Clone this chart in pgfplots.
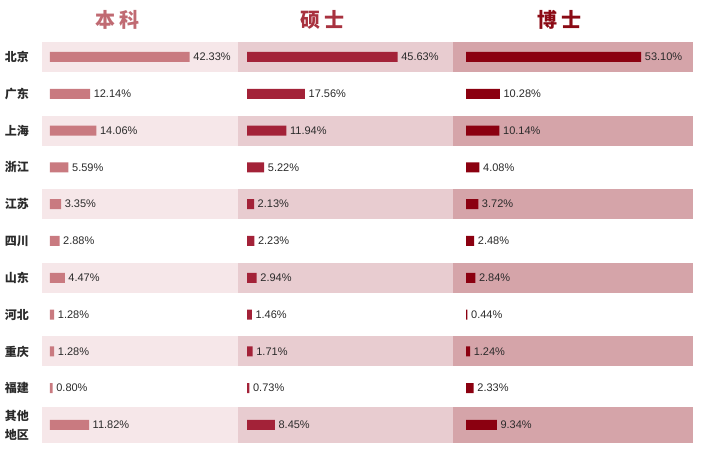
\documentclass[border=0pt]{standalone}
\usepackage{pgfplots}
\usepackage{pgfplotstable}
\pgfplotsset{compat=1.18}
\usepackage{fontspec}
\setmainfont{Liberation Sans}
\newfontfamily\cjk{Noto Sans CJK SC}
\definecolor{bandA}{HTML}{F6E7E9}
\definecolor{bandB}{HTML}{E8CCD0}
\definecolor{bandC}{HTML}{D5A4A9}
\definecolor{barA}{HTML}{C97A80}
\definecolor{barB}{HTML}{A32238}
\definecolor{barC}{HTML}{8B0010}
\definecolor{titA}{HTML}{C06A72}
\definecolor{titB}{HTML}{A8323F}
\definecolor{titC}{HTML}{8B0A14}
\definecolor{txt}{HTML}{2A2A2A}

\pgfplotstableread{
row bk ss bs
0 42.33 45.63 53.10
1 12.14 17.56 10.28
2 14.06 11.94 10.14
3 5.59 5.22 4.08
4 3.35 2.13 3.72
5 2.88 2.23 2.48
6 4.47 2.94 2.84
7 1.28 1.46 0.44
8 1.28 1.71 1.24
9 0.80 0.73 2.33
10 11.82 8.45 9.34
}\datatable

\pgfplotsset{
  /pgf/number format/assume math mode=true,
  colaxis/.style={
    scale only axis,
    height=404.8pt,
    y dir=reverse,
    ymin=-0.5, ymax=10.5,
    axis line style={draw=none},
    major tick length=0pt,
    xtick=\empty,
    ytick=\empty,
    clip=false,
    anchor=south west,
  },
  valbar/.style={
    xbar, bar width=10pt, bar shift=0pt, draw=none, fill=#1,
    point meta=x,
    nodes near coords={\pgfmathprintnumber[fixed,fixed zerofill,precision=2]{\pgfplotspointmeta}\%},
    every node near coord/.append style={font=\fontsize{11}{13}\selectfont, text=txt, anchor=west, inner sep=3.5pt},
  },
}
\newcommand\bands[3]{%
  \pgfplotsinvokeforeach{0,2,4,6,8}{%
    \addplot[fill=#3, draw=none] coordinates {(#1,##1-0.41) (#2,##1-0.41) (#2,##1+0.41) (#1,##1+0.41)} -- cycle;
  }
  \addplot[fill=#3, draw=none] coordinates {(#1,10-0.49) (#2,10-0.49) (#2,10+0.49) (#1,10+0.49)} -- cycle;
}

\begin{document}
\begin{tikzpicture}
\useasboundingbox (0pt,0pt) rectangle (710pt,454pt);

\begin{axis}[colaxis, at={(42pt,10.6pt)}, width=196pt, xmin=-2.4242, xmax=56.97,
  ytick={0,...,10},
  yticklabels={北京,广东,上海,浙江,江苏,四川,山东,河北,重庆,福建,{其他\\地区}},
  yticklabel style={font=\cjk\bfseries\fontsize{12}{19}\selectfont, text=txt, align=center, inner sep=0pt, anchor=east, xshift=-13pt}]
  \bands{-2.4242}{56.97}{bandA}
  \addplot[valbar=barA] table[x=bk, y=row]{\datatable};
\end{axis}

\begin{axis}[colaxis, at={(238pt,10.6pt)}, width=215pt, xmin=-2.727, xmax=62.42]
  \bands{-2.727}{62.42}{bandB}
  \addplot[valbar=barB] table[x=ss, y=row]{\datatable};
\end{axis}

\begin{axis}[colaxis, at={(453pt,10.6pt)}, width=240pt, xmin=-3.939, xmax=68.79]
  \bands{-3.939}{68.79}{bandC}
  \addplot[valbar=barC] table[x=bs, y=row]{\datatable};
\end{axis}

\node[font=\cjk\bfseries\fontsize{20}{22}\selectfont, text=titA] at (117.5pt,434pt) {本\hspace{4pt}科};
\node[font=\cjk\bfseries\fontsize{20}{22}\selectfont, text=titB] at (322pt,434pt) {硕\hspace{4pt}士};
\node[font=\cjk\bfseries\fontsize{20}{22}\selectfont, text=titC] at (559pt,434pt) {博\hspace{4pt}士};
\end{tikzpicture}
\end{document}
